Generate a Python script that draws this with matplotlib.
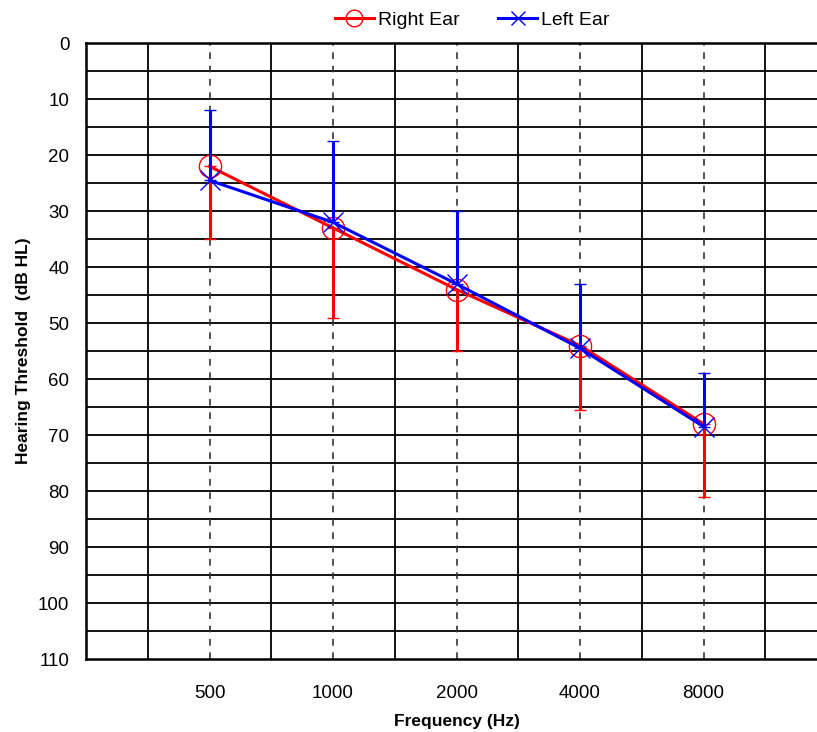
import matplotlib.pyplot as plt

plt.rcParams['font.family'] = ['Liberation Sans', 'DejaVu Sans']

freqs = ['500', '1000', '2000', '4000', '8000']
right_ear = [22, 33, 44, 54, 68]
right_sd = [13, 16, 11, 11.5, 13]      # errorbar below (down)
left_ear = [24.5, 32, 43, 54.5, 68.5]
left_sd = [12.5, 14.5, 13, 11.5, 9.5]  # errorbar above (up)

fig = plt.figure(figsize=(8.17, 7.32), dpi=100)
ax = fig.add_axes([0.1053, 0.0997, 0.907, 0.8413])

xs = list(range(1, len(freqs) + 1))

# grid
for y in range(5, 110, 5):
    ax.axhline(y, color='black', lw=1.3, zorder=1)
for x in [0.5, 1.5, 2.5, 3.5, 4.5, 5.5]:
    ax.axvline(x, color='black', lw=1.3, zorder=1)
for x in xs:
    ax.axvline(x, color='#333333', lw=1.2, ls=(0, (4, 4)), zorder=1)

zeros = [0] * len(xs)
ax.errorbar(xs, right_ear, yerr=[zeros, right_sd], color='red', lw=2.2,
            marker='o', ms=16, mfc='none', mec='red', mew=1.0,
            capsize=4.5, capthick=2.6, elinewidth=2.2, label='Right Ear', zorder=3)
ax.errorbar(xs, left_ear, yerr=[left_sd, zeros], color='blue', lw=2.2,
            marker='x', ms=14, mec='blue', mew=1.0,
            capsize=4.5, capthick=2.6, elinewidth=2.2, label='Left Ear', zorder=4)

ax.set_xlim(0, 6)
ax.set_ylim(110, 0)
ax.set_yticks(range(0, 111, 10))
ax.set_xticks(xs)
ax.set_xticklabels(freqs)
ax.tick_params(length=0, labelsize=13.5)
ax.tick_params(axis='x', pad=19)
ax.tick_params(axis='y', pad=12)
for s in ['left', 'bottom', 'top']:
    ax.spines[s].set_linewidth(1.8)
ax.spines['right'].set_visible(False)

ax.set_xlabel('Frequency (Hz)', fontsize=12.5, fontweight='bold', labelpad=8)
ax.set_ylabel('Hearing Threshold  (dB HL)', fontsize=12.5, fontweight='bold', labelpad=5)

h, l = ax.get_legend_handles_labels()
h = [x[0] for x in h]
fig.legend(h, l, loc='upper center', bbox_to_anchor=(0.578, 1.008), ncol=2,
           frameon=False, fontsize=14, handlelength=2.0, handletextpad=0.2,
           columnspacing=2.0, markerscale=0.75)

fig.savefig('out.png', dpi=100)
